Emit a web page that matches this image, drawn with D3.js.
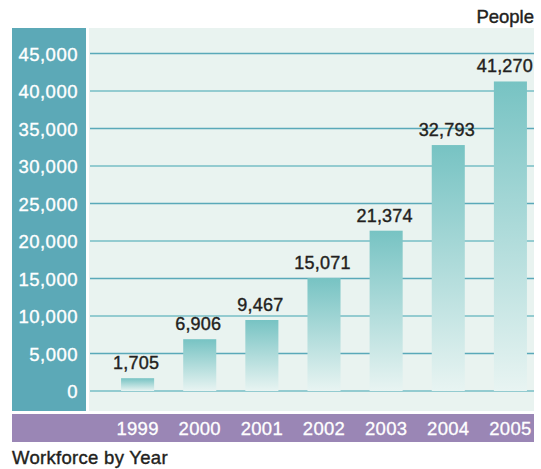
<!DOCTYPE html>
<html><head><meta charset="utf-8">
<script src="https://cdn.jsdelivr.net/npm/d3@7"></script>
<style>
html,body{margin:0;padding:0;background:#fff;}
svg{display:block;font-family:"Liberation Sans",Arial,Helvetica,sans-serif;}
</style></head>
<body>
<svg id="chart" width="541" height="469"></svg>
<script>
const years = ["1999","2000","2001","2002","2003","2004","2005"];
const workforce = [1705, 6906, 9467, 15071, 21374, 32793, 41270];
const yTicks = [0,5000,10000,15000,20000,25000,30000,35000,40000,45000];
const unitLabel = "People";
const chartTitle = "Workforce by Year";

const svg = d3.select("#chart");
const fmt = d3.format(",");

// backgrounds
svg.append("rect").attr("x",12).attr("y",28).attr("width",74).attr("height",383).attr("fill","#5ca9b7");
svg.append("rect").attr("x",89).attr("y",28).attr("width",445).attr("height",383).attr("fill","#e9f3f0");
svg.append("rect").attr("x",12).attr("y",414).attr("width",522).attr("height",28).attr("fill","#9a86b5");

const y = d3.scaleLinear().domain([0,45000]).range([391,53.5]);
const x = d3.scaleBand().domain(years).range([90,558]).paddingInner(0.468).paddingOuter(0.5);

// gradient
const defs = svg.append("defs");
const g = defs.append("linearGradient").attr("id","barGrad").attr("x1",0).attr("y1",0).attr("x2",0).attr("y2",1);
g.append("stop").attr("offset","0%").attr("stop-color","#77c3c3");
g.append("stop").attr("offset","100%").attr("stop-color","#e8f4f2");

// gridlines
svg.append("g").selectAll("line").data(yTicks).join("line")
  .attr("x1",90).attr("x2",534)
  .attr("y1",d=>y(d)).attr("y2",d=>y(d))
  .attr("stroke",d=> (d/5000)%2===1 ? "#5aa9b9" : "#93cbd0")
  .attr("stroke-width",d=> (d/5000)%2===1 ? 1.6 : 2);

// y axis labels
const yAxis = d3.axisLeft(y).tickValues(yTicks).tickFormat(fmt).tickSize(0).tickPadding(0);
const ya = svg.append("g").attr("transform","translate(78,0)").call(yAxis);
ya.select(".domain").remove();
ya.selectAll("text").attr("fill","#fff").attr("font-size","18.5px").attr("letter-spacing","0.5px").attr("dy","0.36em")
  .attr("stroke","#fff").attr("stroke-width",0.35);

// bars
svg.append("g").selectAll("rect").data(workforce).join("rect")
  .attr("x",(d,i)=>x(years[i]))
  .attr("width",x.bandwidth())
  .attr("y",d=>y(d))
  .attr("height",d=>y(0)-y(d))
  .attr("fill","url(#barGrad)");

// value labels
svg.append("g").selectAll("text").data(workforce).join("text")
  .attr("x",(d,i)=>x(years[i])+x.bandwidth()/2-1.5)
  .attr("y",d=>y(d)-9)
  .attr("text-anchor","middle")
  .attr("fill","#231f20")
  .attr("stroke","#231f20").attr("stroke-width",0.4)
  .attr("font-size","18px")
  .attr("letter-spacing","0.2px")
  .text(d=>fmt(d))
  .each(function(){
    const w = this.getComputedTextLength();
    const cx = +this.getAttribute("x");
    if (cx + w/2 > 533) this.setAttribute("x", 533 - w/2);
  });

// x axis labels
const xAxis = d3.axisBottom(x).tickSize(0).tickPadding(0);
const xa = svg.append("g").attr("transform","translate(0,422)").call(xAxis);
xa.select(".domain").remove();
xa.selectAll("text").attr("fill","#fff").attr("font-size","18.5px").attr("dy","0.71em")
  .attr("font-family","Liberation Sans, Arial, sans-serif").attr("letter-spacing","0.3px")
  .attr("stroke","#fff").attr("stroke-width",0.3);

// unit label
svg.append("text").attr("x",534).attr("y",23).attr("text-anchor","end")
  .attr("fill","#231f20").attr("stroke","#231f20").attr("stroke-width",0.4)
  .attr("font-size","18.5px").text(unitLabel);

// title
svg.append("text").attr("x",12).attr("y",464)
  .attr("fill","#231f20").attr("stroke","#231f20").attr("stroke-width",0.4)
  .attr("font-size","18.5px").attr("letter-spacing","0.3px").text(chartTitle);
</script>
</body></html>
